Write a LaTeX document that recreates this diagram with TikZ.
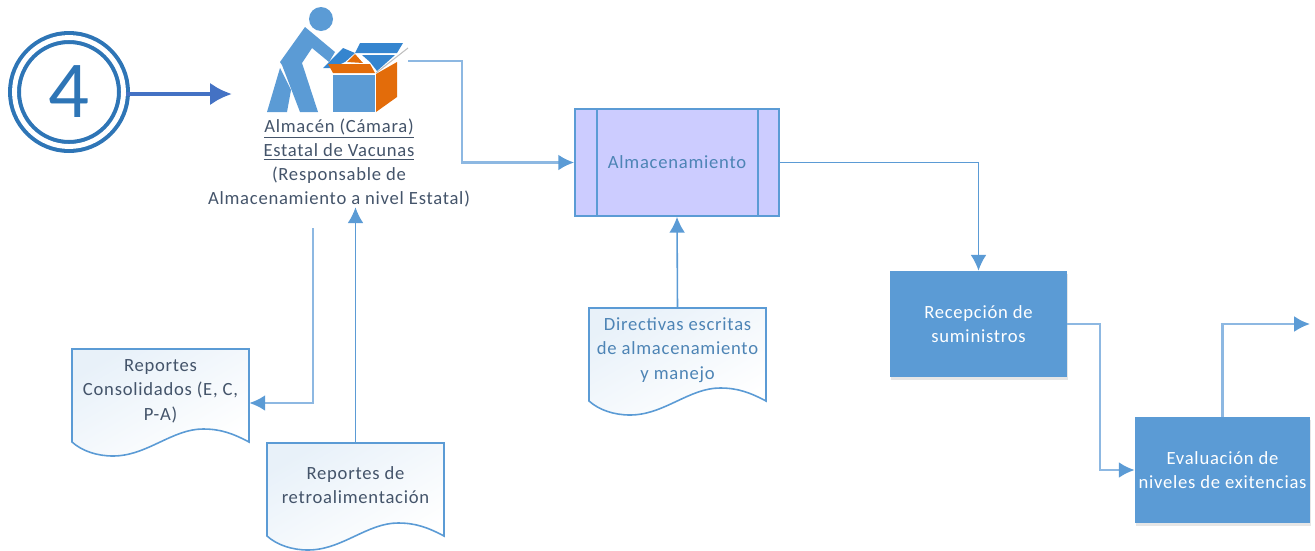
\documentclass[tikz,border=0pt]{standalone}
\usepackage{fontspec}
\setmainfont[LetterSpace=4]{Carlito}
\usetikzlibrary{arrows.meta,shadows}
\definecolor{blau}{HTML}{5B9BD5}
\definecolor{hellblau}{HTML}{8DB8E2}
\definecolor{tiefblau}{HTML}{2E75B6}
\definecolor{kobalt}{HTML}{4472C4}
\definecolor{flieder}{HTML}{CCCCFF}
\definecolor{schiefer}{HTML}{44546A}
\definecolor{orange}{HTML}{E36C0A}
\definecolor{klappe}{HTML}{3585CF}
\begin{document}
\begin{tikzpicture}[>={Latex[length=9pt,width=9pt,color=blau]},
	verbinder/.style={draw=blau,line width=0.9pt},
	blass/.style={draw=hellblau,line width=1.3pt},
	kasten/.style={rectangle,fill=blau,text=white,align=center,minimum height=2.12cm,inner sep=0,
		font=\fontsize{10.6}{14}\selectfont,drop shadow={shadow xshift=0.5pt,shadow yshift=-1.5pt,opacity=0.2,fill=gray}},
	dokrahmen/.style={rectangle,minimum width=3.54cm,minimum height=2.16cm,inner sep=0},
	dokform/.style={draw=blau,line width=0.9pt,top color=blau!14,bottom color=white,shading angle=30},
	doktext/.style={align=center,inner sep=0,font=\fontsize{10.6}{14}\selectfont}]
\def\dsc{0.02}
\def\ort#1#2{({(#1)*\dsc},{-(#2)*\dsc})}
\def\dokument#1#2#3#4#5{
\node[dokrahmen] (#1) at \ort{#2+88.5}{#3+54} {};
\draw[dokform] \ort{#2}{#3} -- \ort{#2+177}{#3} -- \ort{#2+177}{#3+93}
	.. controls \ort{#2+160}{#3+84} and \ort{#2+148}{#3+80} .. \ort{#2+131}{#3+80}
	.. controls \ort{#2+100}{#3+80} and \ort{#2+75}{#3+107} .. \ort{#2+41}{#3+107}
	.. controls \ort{#2+25}{#3+107} and \ort{#2+10}{#3+102} .. \ort{#2}{#3+93} -- cycle;
\node[doktext,text=#5] (#1text) at \ort{#2+88.5}{#3+42} {#4};
}
\useasboundingbox \ort{0}{0} rectangle \ort{1315}{550};
% kreis
\node[circle,draw=tiefblau,double=white,double distance=2.8pt,line width=2.3pt,minimum size=2.18cm,inner sep=0,
	text=tiefblau,font=\fontsize{46}{46}\selectfont] (vier) at \ort{69}{92} {4};
\path \ort{232}{94} coordinate (pfeilziel);
\draw[-{Latex[length=12.5pt,width=13pt]},draw=kobalt,line width=2.5pt] (vier.east |- pfeilziel) -- (pfeilziel);
% figur
\fill[blau] \ort{321}{19} circle (0.24);
\fill[blau] \ort{305}{27} -- \ort{335}{52} -- \ort{329}{62} -- \ort{312}{48} -- \ort{302}{63} -- \ort{318}{112}
	-- \ort{300}{112} -- \ort{282}{65} -- \ort{280}{62} -- cycle;
\fill[blau] \ort{280}{68} -- \ort{267}{112} -- \ort{287}{112} -- \ort{291}{90} -- cycle;
% kiste
\fill[klappe] \ort{323}{68} -- \ort{343}{48} -- \ort{355}{53} -- \ort{345}{62} -- \ort{332}{68} -- cycle;
\fill[klappe] \ort{360}{43} -- \ort{403}{43} -- \ort{397}{53} -- \ort{355}{53} -- cycle;
\fill[klappe] \ort{362}{55} -- \ort{395}{55} -- \ort{377}{71} -- \ort{370}{62} -- cycle;
\fill[orange] \ort{347}{62} -- \ort{355}{54} -- \ort{363}{63} -- cycle;
\fill[orange] \ort{328}{64} -- \ort{370}{64} -- \ort{375}{73} -- \ort{333}{73} -- cycle;
\fill[blau] \ort{333}{75} -- \ort{375}{75} -- \ort{375}{112} -- \ort{333}{112} -- cycle;
\fill[orange] \ort{376}{74} -- \ort{397}{62} -- \ort{397}{97} -- \ort{376}{112} -- cycle;
\draw[black!25,line width=0.6pt] \ort{376}{73} -- \ort{408}{48};
% beschriftung
\node[align=center,inner sep=0,text=schiefer,font=\fontsize{10.6}{13.6}\selectfont] (almacen) at \ort{339}{163}
	{\underline{Almacén (Cámara)}\\\underline{Estatal de Vacunas}\\(Responsable de\\Almacenamiento a nivel Estatal)};
\path \ort{408}{61} coordinate (kiste);
\path \ort{313}{228} coordinate (leitung);
% prozess
\node[rectangle,draw=blau,fill=flieder,line width=1pt,minimum width=4.08cm,minimum height=2.14cm,inner sep=0,
	text=blau!85!black,font=\fontsize{10.6}{14}\selectfont] (lager) at \ort{677}{162.5} {Almacenamiento};
\foreach \x in {597,758}{
	\draw[draw=blau,line width=1pt] \ort{\x}{109} -- \ort{\x}{216};
}
\node[kasten,minimum width=3.54cm] (empfang) at \ort{978.5}{324} {Recepción de\\suministros};
\node[kasten,minimum width=3.5cm] (bewertung) at \ort{1222.5}{470} {Evaluación de\\niveles de exitencias};
\path \ort{1310}{324} coordinate (weiter);
% dokumente
\dokument{konsol}{72}{349}{Reportes\\Consolidados (E, C,\\P-A)}{schiefer}
\dokument{rueck}{267}{443}{Reportes de\\retroalimentación}{schiefer}
\dokument{direktiv}{589}{308}{Directivas escritas\\de almacenamiento\\y manejo}{blau!85!black}
% verbindungen
\draw[blass,->] (kiste) -- ++(1.08,0) |- (lager.west);
\draw[verbinder,->] (lager.east) -| (empfang.north);
\draw[blass,->] (empfang.east) -- ++(0.66,0) |- (bewertung.west);
\draw[blass,->] (bewertung.north) |- (weiter);
\draw[blass,->] (leitung) |- (konsol.east);
\draw[verbinder,->] (rueck.north) -- (rueck.north |- almacen.south);
\draw[verbinder,->] (direktiv.north) -- (lager.south);
\end{tikzpicture}
\end{document}
